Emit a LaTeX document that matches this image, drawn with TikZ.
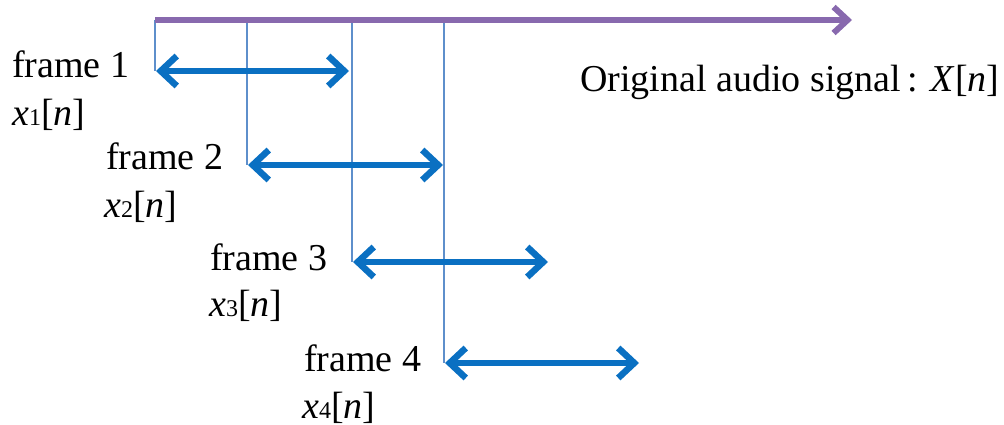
\documentclass[tikz,border=0pt]{standalone}
\usepackage{fontspec}
\setmainfont{Liberation Serif}
\usetikzlibrary{arrows.meta}
\definecolor{sigpurple}{HTML}{8869AE}
\definecolor{framblue}{HTML}{0A70C2}
\definecolor{tickblue}{HTML}{5E8FCB}
\newcommand{\xlab}[1]{\textit{x}\raisebox{0pt}{\fontsize{24}{24}\selectfont #1}[\textit{n}]}
\tikzset{
  signal/.style={draw=sigpurple, line width=6pt, -{Straight Barb[length=14pt,width=26pt]}},
  framearrow/.style={draw=framblue, line width=6.5pt, {Straight Barb[length=16pt,width=30pt]}-{Straight Barb[length=16pt,width=30pt]}, shorten <=1pt, shorten >=1pt},
  tick/.style={draw=tickblue, line width=1.8pt},
  lbl/.style={inner sep=0pt, anchor=base west, font=\fontsize{38}{38}\selectfont},
}
\begin{document}
\begin{tikzpicture}[x=1pt,y=-1pt]
\useasboundingbox (0,0) rectangle (1004,425);
% signal
\coordinate (s0) at (155,20);
\coordinate (s5) at (852,20);
\coordinate (t1) at (155,20);
\coordinate (t2) at (247,20);
\coordinate (t3) at (352,20);
\coordinate (t4) at (444,20);
% frame arrow ends
\coordinate (a1) at (155,71);
\coordinate (b1) at (350,71);
\coordinate (a2) at (247,165);
\coordinate (b2) at (444,165);
\coordinate (a3) at (352,262);
\coordinate (b3) at (549,262);
\coordinate (a4) at (444,363);
\coordinate (b4) at (640,363);
% ticks
\draw[tick] (t1) -- (a1);
\draw[tick] (t2) -- (a2);
\draw[tick] (t3) -- (a3);
\draw[tick] (t4) -- (a4);
\draw[signal] (s0) -- (s5);
\draw[framearrow] (a1) -- (b1);
\draw[framearrow] (a2) -- (b2);
\draw[framearrow] (a3) -- (b3);
\draw[framearrow] (a4) -- (b4);
% labels
\node[lbl] (f1) at (12,78) {frame 1};
\node[lbl] (x1) at (12,126) {\xlab{1}};
\node[lbl] (f2) at (106,170) {frame 2};
\node[lbl] (x2) at (104,217) {\xlab{2}};
\node[lbl] (f3) at (210,270) {frame 3};
\node[lbl] (x3) at (209,316) {\xlab{3}};
\node[lbl] (f4) at (304,371) {frame 4};
\node[lbl] (x4) at (302,418) {\xlab{4}};
\node[lbl] (sig) at (580,92) {Original audio signal\,: \textit{X}[\textit{n}]};
\end{tikzpicture}
\end{document}
